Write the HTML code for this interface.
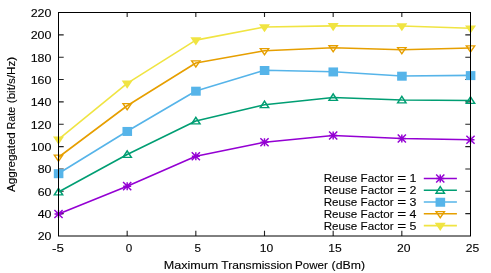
<!DOCTYPE html>
<html><head><meta charset="utf-8"><title>plot</title>
<style>html,body{margin:0;padding:0;background:#fff;overflow:hidden}body{width:491px;height:273px;position:relative;font-family:"Liberation Sans",sans-serif}</style>
</head><body>
<svg width="491" height="273" viewBox="0 0 491 273" style="position:absolute;left:0;top:0">
<rect width="491" height="273" fill="#fff"/>
<path d="M127.17,236.0v-5.2M127.17,12.5v4.6M195.83,236.0v-5.2M195.83,12.5v4.6M264.5,236.0v-5.2M264.5,12.5v4.6M333.17,236.0v-5.2M333.17,12.5v4.6M401.83,236.0v-5.2M401.83,12.5v4.6M58.5,213.65h5.2M470.5,213.65h-5.2M58.5,191.30h5.2M470.5,191.30h-5.2M58.5,168.95h5.2M470.5,168.95h-5.2M58.5,146.60h5.2M470.5,146.60h-5.2M58.5,124.25h5.2M470.5,124.25h-5.2M58.5,101.90h5.2M470.5,101.90h-5.2M58.5,79.55h5.2M470.5,79.55h-5.2M58.5,57.20h5.2M470.5,57.20h-5.2M58.5,34.85h5.2M470.5,34.85h-5.2" stroke="#222" stroke-width="1.1" fill="none"/>
<polyline points="58.50,214.00 127.17,186.20 195.83,156.25 264.50,142.25 333.17,135.50 401.83,138.50 470.50,139.75" fill="none" stroke="#9400d3" stroke-width="1.6" stroke-linejoin="round"/>
<path d="M54.40,209.90L62.60,218.10M54.40,218.10L62.60,209.90M54.50,214.00L62.50,214.00M58.50,210.00L58.50,218.00" stroke="#9400d3" stroke-width="1.45" fill="none"/>
<path d="M123.07,182.10L131.27,190.30M123.07,190.30L131.27,182.10M123.17,186.20L131.17,186.20M127.17,182.20L127.17,190.20" stroke="#9400d3" stroke-width="1.45" fill="none"/>
<path d="M191.73,152.15L199.93,160.35M191.73,160.35L199.93,152.15M191.83,156.25L199.83,156.25M195.83,152.25L195.83,160.25" stroke="#9400d3" stroke-width="1.45" fill="none"/>
<path d="M260.40,138.15L268.60,146.35M260.40,146.35L268.60,138.15M260.50,142.25L268.50,142.25M264.50,138.25L264.50,146.25" stroke="#9400d3" stroke-width="1.45" fill="none"/>
<path d="M329.07,131.40L337.27,139.60M329.07,139.60L337.27,131.40M329.17,135.50L337.17,135.50M333.17,131.50L333.17,139.50" stroke="#9400d3" stroke-width="1.45" fill="none"/>
<path d="M397.73,134.40L405.93,142.60M397.73,142.60L405.93,134.40M397.83,138.50L405.83,138.50M401.83,134.50L401.83,142.50" stroke="#9400d3" stroke-width="1.45" fill="none"/>
<path d="M466.40,135.65L474.60,143.85M466.40,143.85L474.60,135.65M466.50,139.75L474.50,139.75M470.50,135.75L470.50,143.75" stroke="#9400d3" stroke-width="1.45" fill="none"/>
<polyline points="58.50,192.00 127.17,154.50 195.83,121.00 264.50,104.75 333.17,97.50 401.83,100.00 470.50,100.50" fill="none" stroke="#009e73" stroke-width="1.6" stroke-linejoin="round"/>
<path d="M58.50,187.00L53.00,195.60L64.00,195.60ZM58.50,189.69L55.65,194.15L61.35,194.15Z" fill="#009e73" fill-rule="evenodd"/>
<path d="M127.17,149.50L121.67,158.10L132.67,158.10ZM127.17,152.19L124.32,156.65L130.02,156.65Z" fill="#009e73" fill-rule="evenodd"/>
<path d="M195.83,116.00L190.33,124.60L201.33,124.60ZM195.83,118.69L192.98,123.15L198.68,123.15Z" fill="#009e73" fill-rule="evenodd"/>
<path d="M264.50,99.75L259.00,108.35L270.00,108.35ZM264.50,102.44L261.65,106.90L267.35,106.90Z" fill="#009e73" fill-rule="evenodd"/>
<path d="M333.17,92.50L327.67,101.10L338.67,101.10ZM333.17,95.19L330.32,99.65L336.02,99.65Z" fill="#009e73" fill-rule="evenodd"/>
<path d="M401.83,95.00L396.33,103.60L407.33,103.60ZM401.83,97.69L398.98,102.15L404.68,102.15Z" fill="#009e73" fill-rule="evenodd"/>
<path d="M470.50,95.50L465.00,104.10L476.00,104.10ZM470.50,98.19L467.65,102.65L473.35,102.65Z" fill="#009e73" fill-rule="evenodd"/>
<polyline points="58.50,173.50 127.17,131.25 195.83,91.00 264.50,70.30 333.17,71.75 401.83,76.00 470.50,75.40" fill="none" stroke="#56b4e9" stroke-width="1.6" stroke-linejoin="round"/>
<rect x="53.80" y="169.20" width="9.6" height="9.0" fill="#56b4e9"/>
<rect x="122.47" y="126.95" width="9.6" height="9.0" fill="#56b4e9"/>
<rect x="191.13" y="86.70" width="9.6" height="9.0" fill="#56b4e9"/>
<rect x="259.80" y="66.00" width="9.6" height="9.0" fill="#56b4e9"/>
<rect x="328.47" y="67.45" width="9.6" height="9.0" fill="#56b4e9"/>
<rect x="397.13" y="71.70" width="9.6" height="9.0" fill="#56b4e9"/>
<rect x="465.80" y="71.10" width="9.6" height="9.0" fill="#56b4e9"/>
<polyline points="58.50,157.25 127.17,105.75 195.83,63.00 264.50,50.75 333.17,47.80 401.83,49.75 470.50,48.00" fill="none" stroke="#e69f00" stroke-width="1.6" stroke-linejoin="round"/>
<path d="M58.50,162.55L53.00,154.45L64.00,154.45ZM58.50,160.06L55.64,155.85L61.36,155.85Z" fill="#e69f00" fill-rule="evenodd"/>
<path d="M127.17,111.05L121.67,102.95L132.67,102.95ZM127.17,108.56L124.31,104.35L130.03,104.35Z" fill="#e69f00" fill-rule="evenodd"/>
<path d="M195.83,68.30L190.33,60.20L201.33,60.20ZM195.83,65.81L192.97,61.60L198.69,61.60Z" fill="#e69f00" fill-rule="evenodd"/>
<path d="M264.50,56.05L259.00,47.95L270.00,47.95ZM264.50,53.56L261.64,49.35L267.36,49.35Z" fill="#e69f00" fill-rule="evenodd"/>
<path d="M333.17,53.10L327.67,45.00L338.67,45.00ZM333.17,50.61L330.31,46.40L336.03,46.40Z" fill="#e69f00" fill-rule="evenodd"/>
<path d="M401.83,55.05L396.33,46.95L407.33,46.95ZM401.83,52.56L398.97,48.35L404.69,48.35Z" fill="#e69f00" fill-rule="evenodd"/>
<path d="M470.50,53.30L465.00,45.20L476.00,45.20ZM470.50,50.81L467.64,46.60L473.36,46.60Z" fill="#e69f00" fill-rule="evenodd"/>
<polyline points="58.50,139.40 127.17,83.40 195.83,40.10 264.50,27.00 333.17,25.90 401.83,25.95 470.50,28.20" fill="none" stroke="#f0e442" stroke-width="1.6" stroke-linejoin="round"/>
<path d="M58.50,144.70L53.00,136.60L64.00,136.60Z" fill="#f0e442"/>
<path d="M127.17,88.70L121.67,80.60L132.67,80.60Z" fill="#f0e442"/>
<path d="M195.83,45.40L190.33,37.30L201.33,37.30Z" fill="#f0e442"/>
<path d="M264.50,32.30L259.00,24.20L270.00,24.20Z" fill="#f0e442"/>
<path d="M333.17,31.20L327.67,23.10L338.67,23.10Z" fill="#f0e442"/>
<path d="M401.83,31.25L396.33,23.15L407.33,23.15Z" fill="#f0e442"/>
<path d="M470.50,33.50L465.00,25.40L476.00,25.40Z" fill="#f0e442"/>
<line x1="423.8" y1="178.5" x2="456.9" y2="178.5" stroke="#9400d3" stroke-width="1.6"/>
<path d="M436.15,174.40L444.35,182.60M436.15,182.60L444.35,174.40M436.25,178.50L444.25,178.50M440.25,174.50L440.25,182.50" stroke="#9400d3" stroke-width="1.45" fill="none"/>
<line x1="423.8" y1="190.3" x2="456.9" y2="190.3" stroke="#009e73" stroke-width="1.6"/>
<path d="M440.25,185.30L434.75,193.90L445.75,193.90ZM440.25,187.99L437.40,192.45L443.10,192.45Z" fill="#009e73" fill-rule="evenodd"/>
<line x1="423.8" y1="202.05" x2="456.9" y2="202.05" stroke="#56b4e9" stroke-width="1.6"/>
<rect x="435.55" y="197.75" width="9.6" height="9.0" fill="#56b4e9"/>
<line x1="423.8" y1="213.7" x2="456.9" y2="213.7" stroke="#e69f00" stroke-width="1.6"/>
<path d="M440.25,219.00L434.75,210.90L445.75,210.90ZM440.25,216.51L437.39,212.30L443.11,212.30Z" fill="#e69f00" fill-rule="evenodd"/>
<line x1="423.8" y1="225.65" x2="456.9" y2="225.65" stroke="#f0e442" stroke-width="1.6"/>
<path d="M440.25,230.95L434.75,222.85L445.75,222.85Z" fill="#f0e442"/>
<rect x="58.5" y="12.5" width="412.0" height="223.5" fill="none" stroke="#000" stroke-width="1"/>
</svg>
<svg width="491" height="273" viewBox="0 0 491 273" style="position:absolute;left:0;top:0;will-change:transform">
<g font-family="Liberation Sans, sans-serif" font-size="10.6" fill="#000" stroke="#000" stroke-width="0.1">
<text x="51.5" y="240.00" text-anchor="end" textLength="13.8" lengthAdjust="spacingAndGlyphs">20</text>
<text x="51.5" y="218.00" text-anchor="end" textLength="13.8" lengthAdjust="spacingAndGlyphs">40</text>
<text x="51.5" y="195.65" text-anchor="end" textLength="13.8" lengthAdjust="spacingAndGlyphs">60</text>
<text x="51.5" y="173.30" text-anchor="end" textLength="13.8" lengthAdjust="spacingAndGlyphs">80</text>
<text x="51.5" y="150.95" text-anchor="end" textLength="20.8" lengthAdjust="spacingAndGlyphs">100</text>
<text x="51.5" y="128.60" text-anchor="end" textLength="20.8" lengthAdjust="spacingAndGlyphs">120</text>
<text x="51.5" y="106.25" text-anchor="end" textLength="20.8" lengthAdjust="spacingAndGlyphs">140</text>
<text x="51.5" y="83.90" text-anchor="end" textLength="20.8" lengthAdjust="spacingAndGlyphs">160</text>
<text x="51.5" y="61.55" text-anchor="end" textLength="20.8" lengthAdjust="spacingAndGlyphs">180</text>
<text x="51.5" y="39.20" text-anchor="end" textLength="20.8" lengthAdjust="spacingAndGlyphs">200</text>
<text x="51.5" y="16.50" text-anchor="end" textLength="20.8" lengthAdjust="spacingAndGlyphs">220</text>
<text x="58.0" y="251.6" text-anchor="middle" textLength="11.9" lengthAdjust="spacingAndGlyphs">-5</text>
<text x="129.12" y="251.6" text-anchor="middle" textLength="6.5" lengthAdjust="spacingAndGlyphs">0</text>
<text x="197.78" y="251.6" text-anchor="middle" textLength="6.5" lengthAdjust="spacingAndGlyphs">5</text>
<text x="266.45" y="251.6" text-anchor="middle" textLength="13.5" lengthAdjust="spacingAndGlyphs">10</text>
<text x="335.12" y="251.6" text-anchor="middle" textLength="13.5" lengthAdjust="spacingAndGlyphs">15</text>
<text x="403.78" y="251.6" text-anchor="middle" textLength="13.5" lengthAdjust="spacingAndGlyphs">20</text>
<text x="472.45" y="251.6" text-anchor="middle" textLength="13.5" lengthAdjust="spacingAndGlyphs">25</text>
<g font-size="10.2">
<text x="323.7" y="182.35" text-anchor="start" textLength="69.9" lengthAdjust="spacingAndGlyphs">Reuse Factor</text>
<text x="401.8" y="182.35" text-anchor="middle" textLength="8.9" lengthAdjust="spacingAndGlyphs">=</text>
<text x="413.0" y="182.35" text-anchor="middle" textLength="6.9" lengthAdjust="spacingAndGlyphs">1</text>
</g>
<g font-size="10.2">
<text x="323.7" y="194.15" text-anchor="start" textLength="69.9" lengthAdjust="spacingAndGlyphs">Reuse Factor</text>
<text x="401.8" y="194.15" text-anchor="middle" textLength="8.9" lengthAdjust="spacingAndGlyphs">=</text>
<text x="413.0" y="194.15" text-anchor="middle" textLength="6.9" lengthAdjust="spacingAndGlyphs">2</text>
</g>
<g font-size="10.2">
<text x="323.7" y="205.90" text-anchor="start" textLength="69.9" lengthAdjust="spacingAndGlyphs">Reuse Factor</text>
<text x="401.8" y="205.90" text-anchor="middle" textLength="8.9" lengthAdjust="spacingAndGlyphs">=</text>
<text x="413.0" y="205.90" text-anchor="middle" textLength="6.9" lengthAdjust="spacingAndGlyphs">3</text>
</g>
<g font-size="10.2">
<text x="323.7" y="217.55" text-anchor="start" textLength="69.9" lengthAdjust="spacingAndGlyphs">Reuse Factor</text>
<text x="401.8" y="217.55" text-anchor="middle" textLength="8.9" lengthAdjust="spacingAndGlyphs">=</text>
<text x="413.0" y="217.55" text-anchor="middle" textLength="6.9" lengthAdjust="spacingAndGlyphs">4</text>
</g>
<g font-size="10.2">
<text x="323.7" y="229.50" text-anchor="start" textLength="69.9" lengthAdjust="spacingAndGlyphs">Reuse Factor</text>
<text x="401.8" y="229.50" text-anchor="middle" textLength="8.9" lengthAdjust="spacingAndGlyphs">=</text>
<text x="413.0" y="229.50" text-anchor="middle" textLength="6.9" lengthAdjust="spacingAndGlyphs">5</text>
</g>
<g font-size="10.3">
<text x="163.77" y="269.25" text-anchor="start" textLength="54.57" lengthAdjust="spacingAndGlyphs">Maximum</text>
<text x="221.29" y="269.25" text-anchor="start" textLength="71.21" lengthAdjust="spacingAndGlyphs">Transmission</text>
<text x="295.06" y="269.25" text-anchor="start" textLength="32.85" lengthAdjust="spacingAndGlyphs">Power</text>
<text x="331.63" y="269.25" text-anchor="start" textLength="33.43" lengthAdjust="spacingAndGlyphs">(dBm)</text>
</g>
<g font-size="10.3" transform="translate(14.7,191.8) rotate(-90)">
<text x="-0.12" y="0" text-anchor="start" textLength="59.71" lengthAdjust="spacingAndGlyphs">Aggregated</text>
<text x="62.34" y="0" text-anchor="start" textLength="22.62" lengthAdjust="spacingAndGlyphs">Rate</text>
<text x="88.58" y="0" text-anchor="start" textLength="46.39" lengthAdjust="spacingAndGlyphs">(bit/s/Hz)</text>
</g>
</g>
</svg>
</body></html>
